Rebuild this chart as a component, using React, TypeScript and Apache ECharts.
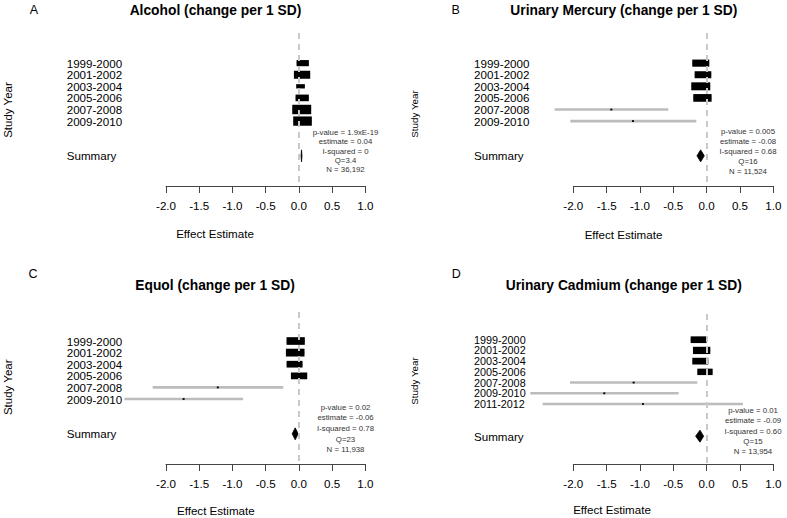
import React, { useEffect, useRef } from 'react';
import * as echarts from 'echarts';

const FONT = '"Liberation Sans", Arial, Helvetica, sans-serif';

// ---------- data ----------
const years6 = ['1999-2000', '2001-2002', '2003-2004', '2005-2006', '2007-2008', '2009-2010'];
const years7 = ['1999-2000', '2001-2002', '2003-2004', '2005-2006', '2007-2008', '2009-2010', '2011-2012'];
const xTicks = [-2.0, -1.5, -1.0, -0.5, 0.0, 0.5, 1.0];

// Alcohol
const alcoholEst = [0.058, 0.048, 0.025, 0.05, 0.043, 0.055];
const alcoholLow = [-0.035, -0.075, -0.04, -0.05, -0.10, -0.085];
const alcoholHigh = [0.15, 0.17, 0.09, 0.15, 0.185, 0.195];
const alcoholBox = [0.185, 0.245, 0.13, 0.2, 0.285, 0.28];
const alcoholSummary = [0.04, 0.033, 0.047]; // estimate, low, high
const alcoholStats = ['p-value = 1.9xE-19', 'estimate = 0.04', 'I-squared = 0', 'Q=3.4', 'N = 36,192'];

// Urinary Mercury
const mercuryEst = [-0.088, -0.055, -0.088, -0.063, -1.43, -1.105];
const mercuryLow = [-0.215, -0.18, -0.23, -0.2, -2.28, -2.045];
const mercuryHigh = [0.04, 0.07, 0.055, 0.075, -0.575, -0.155];
const mercuryBox = [0.255, 0.25, 0.285, 0.275, 0.03, 0.03];
const mercurySummary = [-0.09, -0.145, -0.035];
const mercuryStats = ['p-value = 0.005', 'estimate = -0.08', 'I-squared = 0.68', 'Q=16', 'N = 11,524'];

// Equol
const equolEst = [-0.048, -0.055, -0.065, 0.003, -1.22, -1.735];
const equolLow = [-0.185, -0.195, -0.185, -0.12, -2.2, -2.625];
const equolHigh = [0.09, 0.085, 0.055, 0.125, -0.235, -0.84];
const equolBox = [0.275, 0.28, 0.24, 0.245, 0.03, 0.03];
const equolSummary = [-0.055, -0.1, -0.01];
const equolStats = ['p-value = 0.02', 'estimate = -0.06', 'I-squared = 0.78', 'Q=23', 'N = 11,938'];

// Urinary Cadmium
const cadmiumEst = [-0.12, -0.075, -0.095, -0.025, -1.095, -1.535, -0.955];
const cadmiumLow = [-0.24, -0.205, -0.215, -0.14, -2.05, -2.645, -2.46];
const cadmiumHigh = [0.0, 0.055, 0.025, 0.09, -0.14, -0.42, 0.545];
const cadmiumBox = [0.24, 0.26, 0.24, 0.23, 0.03, 0.03, 0.03];
const cadmiumSummary = [-0.1, -0.165, -0.045];
const cadmiumStats = ['p-value = 0.01', 'estimate = -0.09', 'I-squared = 0.60', 'Q=15', 'N = 13,954'];

// ---------- panels (data + layout) ----------
const panels = [
  {
    letter: 'A', title: 'Alcohol (change per 1 SD)', labels: years6,
    est: alcoholEst, low: alcoholLow, high: alcoholHigh, box: alcoholBox, summary: alcoholSummary, stats: alcoholStats,
    left: 166, width: 199.3, top: 33, height: 153, yMin: -2.6, yMax: 10.6, labelFont: 11.6,
    titleX: 215.5, titleY: 10, letterX: 34, letterY: 10, syX: 8.3, syY: 110, syFont: 11.5,
    eeX: 215, eeY: 233.3, statsX: 345.5, statsY: 132.3, statsStep: 9.4, aspect: 0.5,
  },
  {
    letter: 'B', title: 'Urinary Mercury (change per 1 SD)', labels: years6,
    est: mercuryEst, low: mercuryLow, high: mercuryHigh, box: mercuryBox, summary: mercurySummary, stats: mercuryStats,
    left: 573.3, width: 200, top: 33, height: 153, yMin: -2.6, yMax: 10.6, labelFont: 11.6,
    titleX: 623.8, titleY: 10, letterX: 455.7, letterY: 10, syX: 414.7, syY: 114, syFont: 9.8,
    eeX: 623.5, eeY: 234, statsX: 748, statsY: 131.5, statsStep: 10, aspect: 0.42,
  },
  {
    letter: 'C', title: 'Equol (change per 1 SD)', labels: years6,
    est: equolEst, low: equolLow, high: equolHigh, box: equolBox, summary: equolSummary, stats: equolStats,
    left: 166, width: 199.3, top: 312, height: 152, yMin: -2.5, yMax: 10.6, labelFont: 11.6,
    titleX: 215, titleY: 285.7, letterX: 33, letterY: 274, syX: 8.3, syY: 387.3, syFont: 11.5,
    eeX: 215.8, eeY: 510.7, statsX: 345.5, statsY: 407.3, statsStep: 10.6, aspect: 0.42,
  },
  {
    letter: 'D', title: 'Urinary Cadmium (change per 1 SD)', labels: years7,
    est: cadmiumEst, low: cadmiumLow, high: cadmiumHigh, box: cadmiumBox, summary: cadmiumSummary, stats: cadmiumStats,
    left: 573.3, width: 200, top: 314, height: 150, yMin: -2.4, yMax: 11.6, labelFont: 10.8,
    titleX: 623.8, titleY: 285.7, letterX: 456.3, letterY: 274, syX: 414.7, syY: 381, syFont: 9.8,
    eeX: 612, eeY: 509, statsX: 753, statsY: 410.7, statsStep: 10.25, aspect: 0.42,
  },
];

const LABEL_GAP = 99.3;

function buildOption() {
  const grid: any[] = [];
  const xAxis: any[] = [];
  const yAxis: any[] = [];
  const series: any[] = [];
  const graphic: any[] = [];

  panels.forEach((p, i) => {
    const labelFont = `${p.labelFont}px ${FONT}`;
    grid.push({ left: p.left, width: p.width, top: p.top, height: p.height, containLabel: false, outerBoundsMode: 'none' });
    xAxis.push({
      type: 'value', gridIndex: i, min: xTicks[0], max: xTicks[xTicks.length - 1], interval: 0.5,
      axisLine: { show: true, onZero: false, lineStyle: { color: '#444', width: 1 } },
      axisTick: { show: true, length: 7, lineStyle: { color: '#444', width: 1 } },
      axisLabel: {
        margin: 13, color: '#000', fontSize: 11.6, fontFamily: FONT, showMinLabel: true, showMaxLabel: true,
        formatter: (v: number) => v.toFixed(1),
      },
      splitLine: { show: false },
    });
    yAxis.push({ type: 'value', gridIndex: i, inverse: true, min: p.yMin, max: p.yMax, show: false });

    const n = p.labels.length;
    const summaryIdx = n + 2;

    // summary diamond + dashed zero line
    series.push({
      type: 'custom', xAxisIndex: i, yAxisIndex: i, clip: false, z: 1,
      data: [[summaryIdx, p.summary[0], p.summary[1], p.summary[2]]],
      encode: { x: [1, 2, 3], y: 0 },
      renderItem: (params: any, api: any) => {
        const idx = api.value(0);
        const e = api.coord([api.value(1), idx]);
        const lo = api.coord([api.value(2), idx]);
        const hi = api.coord([api.value(3), idx]);
        const h = 6;
        return {
          type: 'group',
          children: [
            {
              type: 'polygon',
              shape: { points: [[lo[0], e[1]], [e[0], e[1] - h], [hi[0], e[1]], [e[0], e[1] + h]] },
              style: { fill: '#000', stroke: '#000', lineWidth: 0.8 },
            },
            {
              type: 'text', x: params.coordSys.x - LABEL_GAP, y: e[1],
              style: { text: 'Summary', fill: '#000', font: `11.6px ${FONT}`, align: 'left', verticalAlign: 'middle', textAlign: 'left', textVerticalAlign: 'middle' },
            },
          ],
        };
      },
      markLine: {
        silent: true, symbol: ['none', 'none'], label: { show: false },
        lineStyle: { color: '#c9c9c9', width: 2, type: [6, 5] },
        data: [{ xAxis: 0 }],
      },
    });

    // study rows
    series.push({
      type: 'custom', xAxisIndex: i, yAxisIndex: i, clip: false, z: 3,
      data: p.labels.map((_, j) => [j, p.est[j], p.low[j], p.high[j], p.box[j]]),
      encode: { x: [1, 2, 3], y: 0 },
      renderItem: (params: any, api: any) => {
        const idx = api.value(0);
        const e = api.coord([api.value(1), idx]);
        const lo = api.coord([api.value(2), idx]);
        const hi = api.coord([api.value(3), idx]);
        const w = Math.max(api.size([api.value(4), 0])[0], 2);
        const h = Math.max(w * p.aspect, 1.8);
        return {
          type: 'group',
          children: [
            { type: 'line', shape: { x1: lo[0], y1: lo[1], x2: hi[0], y2: hi[1] }, style: { stroke: '#bcbcbc', lineWidth: 2.6 } },
            { type: 'rect', shape: { x: e[0] - w / 2, y: e[1] - h / 2, width: w, height: h }, style: { fill: '#000' } },
            {
              type: 'text', x: params.coordSys.x - LABEL_GAP, y: e[1],
              style: {
                text: p.labels[idx], fill: '#000', font: labelFont, lineHeight: 10,
                align: 'left', verticalAlign: 'middle', textAlign: 'left', textVerticalAlign: 'middle',
              },
            },
          ],
        };
      },
    });

    // texts
    graphic.push({
      type: 'text', x: p.letterX, y: p.letterY,
      style: { text: p.letter, fill: '#000', font: `12.5px ${FONT}`, align: 'center', verticalAlign: 'middle', textAlign: 'center', textVerticalAlign: 'middle' },
    });
    graphic.push({
      type: 'text', x: p.titleX, y: p.titleY,
      style: { text: p.title, fill: '#000', font: `bold 13.8px ${FONT}`, align: 'center', verticalAlign: 'middle', textAlign: 'center', textVerticalAlign: 'middle' },
    });
    graphic.push({
      type: 'text', x: p.syX, y: p.syY, rotation: Math.PI / 2,
      style: { text: 'Study Year', fill: '#000', font: `${p.syFont}px ${FONT}`, align: 'center', verticalAlign: 'middle', textAlign: 'center', textVerticalAlign: 'middle' },
    });
    graphic.push({
      type: 'text', x: p.eeX, y: p.eeY,
      style: { text: 'Effect Estimate', fill: '#000', font: `11.6px ${FONT}`, align: 'center', verticalAlign: 'middle', textAlign: 'center', textVerticalAlign: 'middle' },
    });
    p.stats.forEach((s, k) => {
      graphic.push({
        type: 'text', x: p.statsX, y: p.statsY + k * p.statsStep,
        style: { text: s, fill: '#333', font: `7.8px ${FONT}`, align: 'center', verticalAlign: 'middle', textAlign: 'center', textVerticalAlign: 'middle' },
      });
    });
  });

  return {
    animation: false,
    backgroundColor: '#fff',
    textStyle: { fontFamily: FONT },
    grid, xAxis, yAxis, series, graphic,
  };
}

export default function App() {
  const ref = useRef<HTMLDivElement>(null);
  useEffect(() => {
    if (!ref.current) return;
    const chart = echarts.init(ref.current, undefined, { renderer: 'svg' });
    chart.setOption(buildOption() as any);
    return () => chart.dispose();
  }, []);
  return <div ref={ref} style={{ position: 'fixed', left: 0, top: 0, width: 787, height: 518, background: '#fff' }} />;
}
